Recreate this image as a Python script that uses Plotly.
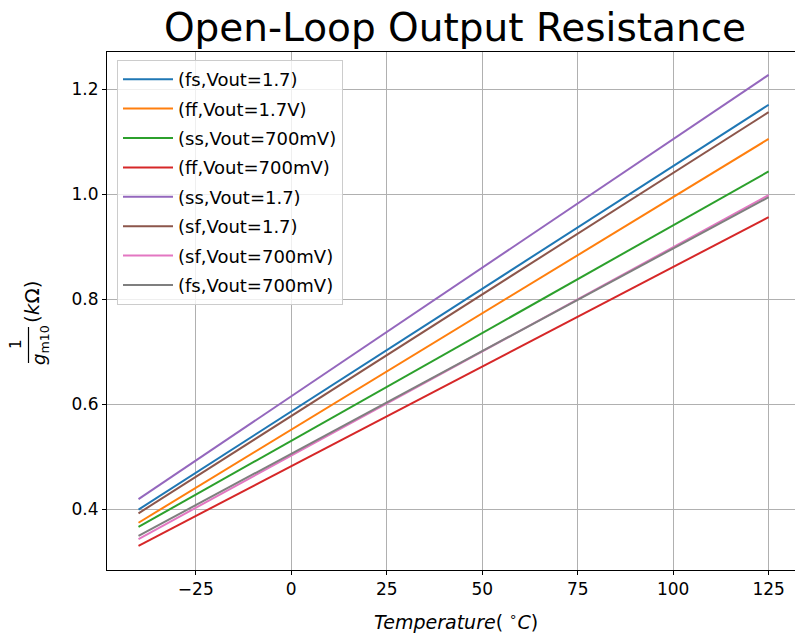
import plotly.graph_objects as go

temps = [-40, 125]
names = ["(fs,Vout=1.7)", "(ff,Vout=1.7V)", "(ss,Vout=700mV)", "(ff,Vout=700mV)",
         "(ss,Vout=1.7)", "(sf,Vout=1.7)", "(sf,Vout=700mV)", "(fs,Vout=700mV)"]
fs_17 = [0.399, 1.170]
ff_17 = [0.374, 1.105]
ss_700 = [0.366, 1.043]
ff_700 = [0.330, 0.956]
ss_17 = [0.419, 1.227]
sf_17 = [0.392, 1.156]
sf_700 = [0.343, 0.998]
fs_700 = [0.349, 0.994]
series = [fs_17, ff_17, ss_700, ff_700, ss_17, sf_17, sf_700, fs_700]
colors = ["#1f77b4", "#ff7f0e", "#2ca02c", "#d62728", "#9467bd", "#8c564b", "#e377c2", "#7f7f7f"]
xticks = [-25, 0, 25, 50, 75, 100, 125]
yticks = [0.4, 0.6, 0.8, 1.0, 1.2]

L, T, W, H = 107, 52, 688, 518


def px(x):
    return (x - L) / W


def py(y):
    return (T + H - y) / H


fig = go.Figure()
for i, (n, s, c) in enumerate(zip(names, series, colors)):
    fig.add_trace(go.Scatter(x=temps, y=s, mode="lines", name=n, legendgroup=f"g{i}",
                             line=dict(color=c, width=2)))

font = "DejaVu Sans, Liberation Sans, sans-serif"
fig.update_layout(
    width=795, height=633,
    margin=dict(l=L, r=795 - L - W, t=T, b=633 - T - H),
    plot_bgcolor="white", paper_bgcolor="white",
    font=dict(family=font, size=17, color="black"),
    title=dict(text="Open-Loop Output Resistance", x=455 / 795, xanchor="center",
               y=1 - 27 / 633, yanchor="middle", yref="container",
               font=dict(size=39, family=font, color="black")),
    showlegend=True,
    legend=dict(x=px(117), y=py(60), xanchor="left", yanchor="top",
                bgcolor="rgba(255,255,255,0.8)", bordercolor="#cccccc", borderwidth=1,
                font=dict(size=18, family=font), tracegroupgap=3, itemwidth=50),
    xaxis=dict(range=[-48.25, 131.9], tickvals=xticks,
               ticktext=["\u221225", "0", "25", "50", "75", "100", "125"],
               showgrid=True, gridcolor="#b0b0b0", gridwidth=1,
               showline=True, linecolor="black", linewidth=1, mirror=True,
               ticks="outside", ticklen=4, tickcolor="black", zeroline=False,
               tickfont=dict(size=17)),
    yaxis=dict(range=[0.284, 1.2705], tickvals=yticks,
               ticktext=["0.4", "0.6", "0.8", "1.0", "1.2"],
               showgrid=True, gridcolor="#b0b0b0", gridwidth=1,
               showline=True, linecolor="black", linewidth=1, mirror=False,
               ticks="outside", ticklen=4, tickcolor="black", zeroline=False,
               tickfont=dict(size=17)),
    annotations=[
        dict(text="<i>Temperature</i>( <sup>\u2218</sup><i>C</i>)", xref="paper", yref="paper",
             x=px(456), y=py(621), xanchor="center", yanchor="middle",
             showarrow=False, font=dict(size=19, family=font)),
        dict(text="1", xref="paper", yref="paper", x=px(16), y=py(344),
             textangle=-90, xanchor="center", yanchor="middle",
             showarrow=False, font=dict(size=15, family=font)),
        dict(text="<i>g</i><sub>m10</sub>", xref="paper", yref="paper", x=px(40), y=py(345),
             textangle=-90, xanchor="center", yanchor="middle",
             showarrow=False, font=dict(size=18, family=font)),
        dict(text="(<i>k</i>\u03a9)", xref="paper", yref="paper", x=px(32), y=py(302),
             textangle=-90, xanchor="center", yanchor="middle",
             showarrow=False, font=dict(size=20, family=font)),
    ],
    shapes=[
        dict(type="line", xref="paper", yref="paper", x0=px(28.5), x1=px(28.5),
             y0=py(327), y1=py(363), line=dict(color="black", width=1.2)),
    ],
)
fig.write_html("out.html")
